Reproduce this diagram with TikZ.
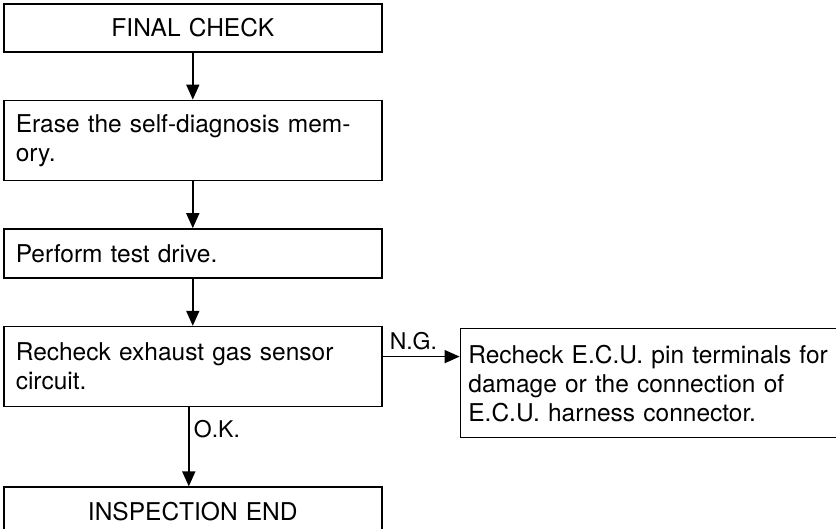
\documentclass[tikz,border=0pt]{standalone}
\usepackage{fontspec}
\setmainfont{TeX Gyre Heros}
\usetikzlibrary{positioning, arrows.meta}

\begin{document}
\begin{tikzpicture}[x=1pt, y=1pt, node distance=47pt,
    every node/.style={font=\fontsize{24.5}{29}\selectfont},
    stepbox/.style={draw, line width=1.6pt, inner xsep=12pt, inner ysep=0pt, text width=354pt, minimum width=378pt},
    tag/.style={font=\fontsize{23}{27}\selectfont},
    arr/.style={-{Triangle[length=15pt, width=13pt]}, line width=1.6pt}]
  \useasboundingbox (0,0) rectangle (836,-529);
  \node[stepbox, align=center, minimum height=48pt, anchor=north west] (fc) at (3,-3) {FINAL CHECK};
  \node[stepbox, align=left, minimum height=80pt, below=of fc] (erase) {Erase the self-diagnosis mem-\\ory.};
  \node[stepbox, align=left, minimum height=49pt, below=of erase] (drive) {Perform test drive.};
  \node[stepbox, align=left, minimum height=80pt, below=of drive] (rck) {Recheck exhaust gas sensor\\circuit.};
  \node[stepbox, align=center, minimum height=48pt, below=79pt of rck] (insp) {INSPECTION END};
  \node[stepbox, align=left, inner xsep=7pt, text width=362pt, minimum height=109pt, right=77pt of rck.north east, anchor=north west, yshift=-2pt] (ecu) {Recheck E.C.U. pin terminals for\\damage or the connection of\\E.C.U. harness connector.};
  \draw[arr] (fc) -- (erase);
  \draw[arr] (erase) -- (drive);
  \draw[arr] (drive) -- (rck);
  \draw[arr] ([yshift=10pt]rck.east) -- ([yshift=10pt]rck.east -| ecu.west) node[tag, pos=0.4, above=3pt] {N.G.};
  \draw[arr] ([xshift=-4pt]rck.south) -- ([xshift=-4pt]rck.south |- insp.north) node[tag, pos=0.27, right=1pt] {O.K.};
\end{tikzpicture}
\end{document}
